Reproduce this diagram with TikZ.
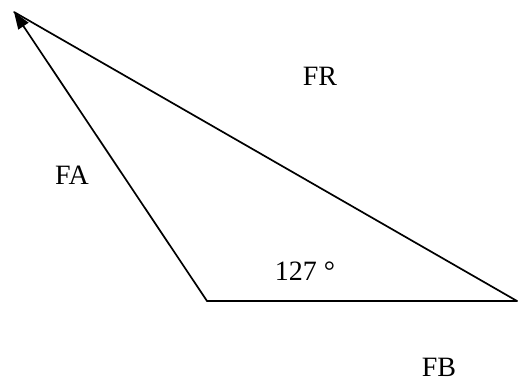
\documentclass[tikz,border=0pt]{standalone}
\usepackage{fontspec}
\setmainfont{Liberation Serif}
\usetikzlibrary{arrows.meta}

\begin{document}
\begin{tikzpicture}[x=1pt,y=1pt,line width=1.7pt,line cap=round,line join=round,
    forcelabel/.style={font=\fontsize{28}{30}\selectfont,inner sep=0pt}]
    \useasboundingbox (0,0) rectangle (519,383);
    \coordinate (tip) at (14,371);
    \coordinate (base) at (207,82);
    \coordinate (far) at (517,82);
    \draw[-{Triangle[length=17pt,width=12pt]}] (base) -- (tip);
    \draw (tip) -- (far);
    \draw (base) -- (far);
    \node[forcelabel] (fr) at (320,307) {FR};
    \node[forcelabel] (fa) at (72,208) {FA};
    \node[forcelabel] (ang) at (305,112) {127 °};
    \node[forcelabel] (fb) at (439,16) {FB};
  \end{tikzpicture}
\end{document}
